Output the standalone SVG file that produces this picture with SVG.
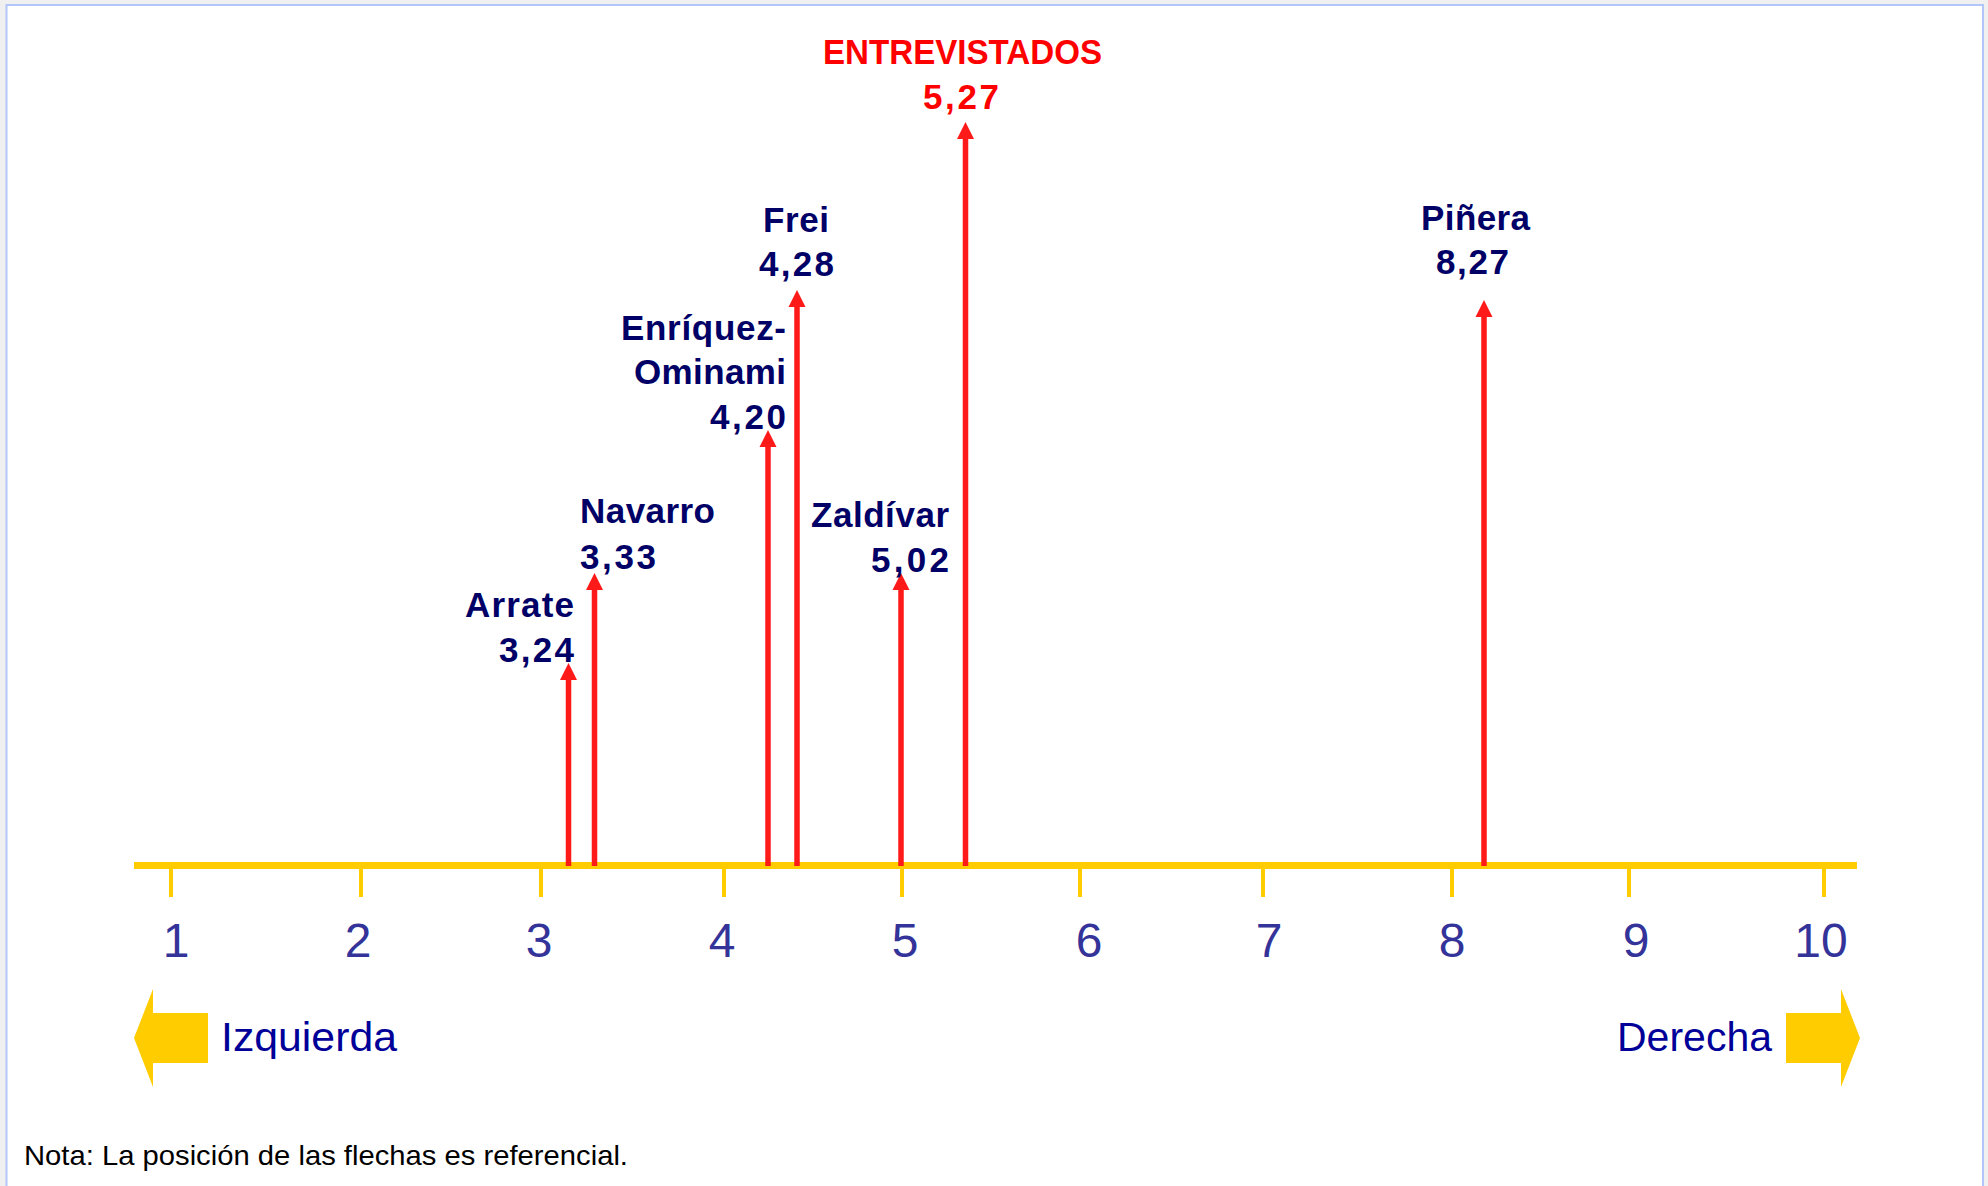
<svg xmlns="http://www.w3.org/2000/svg" width="1988" height="1186" viewBox="0 0 1988 1186">
<defs>
<style>
.lbl{font-family:"Liberation Sans",Arial,sans-serif;font-weight:bold;font-size:35px;fill:#000066}
.red{fill:#FF0000}
.num{font-family:"Liberation Sans",Arial,sans-serif;font-size:48px;fill:#333399;text-anchor:middle}
.dir{font-family:"Liberation Sans",Arial,sans-serif;font-size:41px;fill:#000099}
.note{font-family:"Liberation Sans",Arial,sans-serif;font-size:28.5px;fill:#000000}
.stem{stroke:#FF1A1A;stroke-width:5.5;fill:none}
.head{fill:#FF1A1A}
.tick{stroke:#FFCC00;stroke-width:4}
.yel{fill:#FFCC00}
</style>
</defs>
<rect x="0" y="0" width="1988" height="1186" fill="#F0F0F0"/>
<rect x="6.5" y="5" width="1976.5" height="1200" fill="#FFFFFF" stroke="#B3C6FA" stroke-width="2"/>

<g id="axis">
<line x1="134" y1="865.5" x2="1857" y2="865.5" stroke="#FFCC00" stroke-width="7"/>
<line class="tick" x1="171" y1="869" x2="171" y2="897"/>
<line class="tick" x1="361" y1="869" x2="361" y2="897"/>
<line class="tick" x1="541" y1="869" x2="541" y2="897"/>
<line class="tick" x1="724" y1="869" x2="724" y2="897"/>
<line class="tick" x1="902" y1="869" x2="902" y2="897"/>
<line class="tick" x1="1080" y1="869" x2="1080" y2="897"/>
<line class="tick" x1="1263" y1="869" x2="1263" y2="897"/>
<line class="tick" x1="1452" y1="869" x2="1452" y2="897"/>
<line class="tick" x1="1629" y1="869" x2="1629" y2="897"/>
<line class="tick" x1="1824" y1="869" x2="1824" y2="897"/>
<text class="num" x="176" y="957">1</text>
<text class="num" x="358" y="957">2</text>
<text class="num" x="539" y="957">3</text>
<text class="num" x="722" y="957">4</text>
<text class="num" x="905" y="957">5</text>
<text class="num" x="1089" y="957">6</text>
<text class="num" x="1269" y="957">7</text>
<text class="num" x="1452" y="957">8</text>
<text class="num" x="1636" y="957">9</text>
<text class="num" x="1821" y="957">10</text>
</g>

<g id="izquierda">
<polygon class="yel" points="208,1013 153,1013 153,989 134,1038 153,1087 153,1063 208,1063"/>
<text class="dir" x="221" y="1051" textLength="176" lengthAdjust="spacingAndGlyphs">Izquierda</text>
</g>
<g id="derecha">
<polygon class="yel" points="1786,1013 1841,1013 1841,989 1860,1038 1841,1087 1841,1063 1786,1063"/>
<text class="dir" x="1772" y="1051" text-anchor="end">Derecha</text>
</g>

<g id="connectors">
<line class="stem" x1="568.5" y1="676" x2="568.5" y2="866"/>
<polygon class="head" points="568.5,663 577,680 560,680"/>
<line class="stem" x1="594.5" y1="586" x2="594.5" y2="866"/>
<polygon class="head" points="594.5,573 603,590 586,590"/>
<line class="stem" x1="768" y1="443" x2="768" y2="866"/>
<polygon class="head" points="768,430 776.5,447 759.5,447"/>
<line class="stem" x1="797" y1="303" x2="797" y2="866"/>
<polygon class="head" points="797,290 805.5,307 788.5,307"/>
<line class="stem" x1="901" y1="586" x2="901" y2="866"/>
<polygon class="head" points="901,573 909.5,590 892.5,590"/>
<line class="stem" x1="965.5" y1="135" x2="965.5" y2="866"/>
<polygon class="head" points="965.5,122 974,139 957,139"/>
<line class="stem" x1="1484" y1="313" x2="1484" y2="866"/>
<polygon class="head" points="1484,300 1492.5,317 1475.5,317"/>
</g>

<g id="arrate">
<text class="lbl" x="574" y="617" text-anchor="end" textLength="109" lengthAdjust="spacing">Arrate</text>
<text class="lbl" x="574" y="662" text-anchor="end" textLength="75" lengthAdjust="spacing">3,24</text>
</g>
<g id="navarro">
<text class="lbl" x="580" y="523" textLength="135" lengthAdjust="spacing">Navarro</text>
<text class="lbl" x="580" y="569" textLength="76" lengthAdjust="spacing">3,33</text>
</g>
<g id="enriquez-ominami">
<text class="lbl" x="786" y="340" text-anchor="end" textLength="165" lengthAdjust="spacing">Enríquez-</text>
<text class="lbl" x="786" y="384" text-anchor="end" textLength="152" lengthAdjust="spacing">Ominami</text>
<text class="lbl" x="786" y="429" text-anchor="end" textLength="76" lengthAdjust="spacing">4,20</text>
</g>
<g id="frei">
<text class="lbl" x="796" y="232" text-anchor="middle" textLength="66" lengthAdjust="spacing">Frei</text>
<text class="lbl" x="796.5" y="276" text-anchor="middle" textLength="75" lengthAdjust="spacing">4,28</text>
</g>
<g id="zaldivar">
<text class="lbl" x="949" y="527" text-anchor="end" textLength="138" lengthAdjust="spacing">Zaldívar</text>
<text class="lbl" x="949" y="572" text-anchor="end" textLength="78" lengthAdjust="spacing">5,02</text>
</g>
<g id="entrevistados">
<text class="lbl red" x="962.5" y="64" text-anchor="middle" textLength="279" lengthAdjust="spacingAndGlyphs">ENTREVISTADOS</text>
<text class="lbl red" x="961" y="109" text-anchor="middle" textLength="76" lengthAdjust="spacing">5,27</text>
</g>
<g id="pinera">
<text class="lbl" x="1475.5" y="230" text-anchor="middle" textLength="109" lengthAdjust="spacing">Piñera</text>
<text class="lbl" x="1472.5" y="274" text-anchor="middle" textLength="73" lengthAdjust="spacing">8,27</text>
</g>

<text class="note" x="24" y="1165" textLength="604" lengthAdjust="spacingAndGlyphs">Nota: La posición de las flechas es referencial.</text>
</svg>
